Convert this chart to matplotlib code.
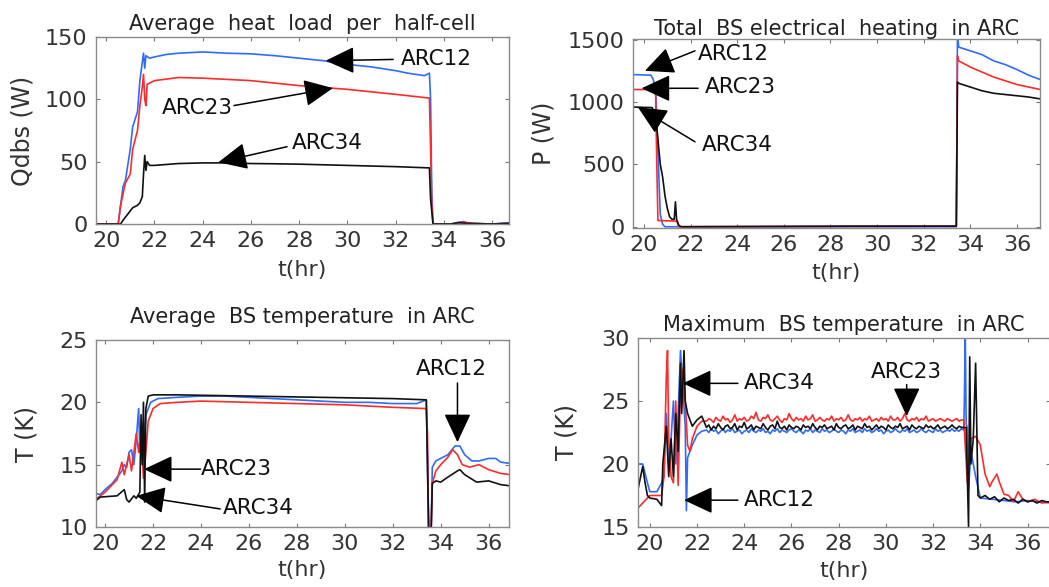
import matplotlib
matplotlib.use('Agg')
import matplotlib.pyplot as plt
import numpy as np

plt.rcParams['font.family'] = ['DejaVu Sans']

BLUE = '#2f6bff'
RED = '#ff2b2b'
BLACK = '#111111'

# ---- panel 1: average heat load per half-cell (W)
q_t12 = [19.6, 20.5, 20.7, 20.8, 21.0, 21.1, 21.3, 21.4, 21.5, 21.55, 21.6, 21.65, 21.8, 22.0, 22.5,
         23.0, 24.0, 25.0, 26.0, 27.0, 28.0, 29.0, 30.0, 31.0, 32.0, 32.5, 33.2, 33.4, 33.45, 33.5,
         33.55, 34.3, 34.5, 34.8, 35.0, 36.0, 36.7]
q_arc12 = [0, 0, 30, 35, 60, 78, 90, 115, 130, 137, 125, 135, 133, 134, 136,
           137, 138, 137, 136.5, 135, 133, 131, 128, 126, 123, 121, 119, 121, 100, 25,
           0, 0, 1, 2, 0.5, 0, 1]
q_t23 = [19.6, 20.5, 20.6, 20.8, 21.0, 21.1, 21.3, 21.4, 21.5, 21.55, 21.6, 21.65, 21.7, 22.0, 23.0,
         24.0, 25.0, 26.0, 27.0, 28.0, 29.0, 30.0, 31.0, 32.0, 33.4, 33.45, 33.5, 33.55, 34.3, 34.6,
         34.8, 35.2, 36.0, 36.7]
q_arc23 = [0, 0, 15, 33, 40, 60, 75, 95, 110, 120, 100, 95, 112, 115, 117.5,
           117, 116, 115, 113, 111, 109.5, 108, 106, 104, 101, 60, 15, 0, 0, 1,
           1.5, 0.5, 0, 0.5]
q_t34 = [19.6, 20.6, 20.7, 20.9, 21.1, 21.3, 21.4, 21.5, 21.55, 21.6, 21.65, 21.7, 21.8, 22.0, 23.0,
         24.0, 25.0, 26.0, 27.0, 28.0, 29.0, 30.0, 31.0, 32.0, 33.4, 33.45, 33.55, 34.3, 34.6, 35.0,
         36.0, 36.7]
q_arc34 = [0, 0, 3, 8, 13, 15, 17, 22, 40, 55, 43, 50, 47, 47, 48.5,
           49, 49, 48.5, 48.3, 48, 47.5, 47, 46.5, 46, 45, 20, 0, 0, 1, 0.5,
           0, 0.5]

# ---- panel 2: total BS electrical heating (W)
p_t12 = [19.5, 20.3, 20.4, 20.5, 20.6, 20.7, 20.8, 20.9, 33.4, 33.45, 33.5, 34.0, 34.5, 35.0,
         35.5, 36.0, 36.5, 37.0]
p_arc12 = [1220, 1215, 1180, 1100, 600, 100, 20, 0, 0, 1550, 1440, 1410, 1380, 1330,
           1300, 1260, 1215, 1180]
p_t23 = [19.5, 20.35, 20.4, 20.5, 20.55, 20.6, 21.4, 21.5, 33.4, 33.45, 33.5, 34.0, 34.5, 35.0,
         35.5, 36.0, 36.5, 37.0]
p_arc23 = [1100, 1100, 1090, 1080, 500, 50, 45, 0, 5, 1370, 1330, 1280, 1240, 1200,
           1170, 1140, 1120, 1100]
p_t34 = [19.5, 20.35, 20.5, 20.6, 20.7, 20.8, 20.9, 21.0, 21.1, 21.2, 21.3, 21.35, 21.4, 21.5, 21.6,
         29.0, 33.4, 33.45, 33.5, 34.0, 34.5, 35.0, 35.5, 36.0, 36.5, 37.0]
p_arc34 = [960, 955, 900, 700, 500, 400, 250, 150, 80, 60, 60, 200, 60, 10, 0,
           5, 5, 1160, 1150, 1120, 1090, 1070, 1060, 1050, 1040, 1025]

# ---- panel 3: average BS temperature (K)
ta_t12 = [19.6, 19.8, 20.0, 20.3, 20.5, 20.7, 20.8, 20.9, 21.0, 21.1, 21.2, 21.3, 21.4, 21.45,
          21.5, 21.6, 21.7, 21.9, 22.2, 23.0, 24.0, 25.0, 26.0, 27.0, 28.0, 29.0, 30.0, 31.0,
          32.0, 33.0, 33.4, 33.5, 33.6, 33.65, 33.8, 34.0, 34.3, 34.6, 34.8, 35.0, 35.3, 35.6,
          36.0, 36.3, 36.5, 36.9]
ta_arc12 = [12.7, 12.6, 13.0, 13.5, 14.0, 14.5, 15.0, 14.8, 16.0, 16.2, 15.0, 17.0, 19.5, 16.0,
            18.0, 16.5, 19.0, 20.0, 20.3, 20.4, 20.5, 20.5, 20.4, 20.3, 20.2, 20.1, 20.0, 20.0,
            19.9, 19.9, 20.2, 9.5, 9.5, 14.8, 15.3, 15.5, 15.8, 16.5, 16.5, 15.8, 15.3, 15.3,
            15.5, 15.5, 15.2, 15.1]
ta_t23 = [19.6, 20.0, 20.5, 20.7, 20.8, 21.0, 21.1, 21.3, 21.4, 21.5, 21.6, 21.7, 21.8, 22.0,
          22.3, 23.0, 24.0, 26.0, 28.0, 30.0, 32.0, 33.4, 33.45, 33.5, 33.6, 33.65, 33.8, 34.0,
          34.3, 34.5, 34.7, 34.9, 35.2, 35.6, 36.0, 36.5, 36.9]
ta_arc23 = [12.2, 12.8, 13.8, 15.2, 14.2, 15.8, 14.5, 17.5, 16.0, 17.8, 13.9, 16.0, 18.5, 19.5,
            19.9, 20.0, 20.1, 20.0, 19.9, 19.8, 19.6, 19.5, 17.5, 9.5, 9.5, 13.5, 14.5, 15.0,
            15.6, 16.2, 15.8, 15.0, 14.8, 15.0, 14.6, 14.3, 14.2]
ta_t34 = [19.6, 19.8, 20.5, 20.8, 20.9, 21.0, 21.2, 21.3, 21.45, 21.5, 21.55, 21.6, 21.65, 21.7,
          21.8, 22.0, 23.0, 26.0, 29.0, 32.0, 33.4, 33.5, 33.6, 33.65, 33.8, 34.0, 34.3, 34.7,
          34.8, 35.0, 35.5, 36.0, 36.5, 36.9]
ta_arc34 = [12.1, 12.4, 12.5, 13.0, 12.2, 12.0, 12.5, 12.3, 12.8, 19.0, 15.0, 20.0, 12.0, 19.5,
            20.5, 20.6, 20.6, 20.5, 20.4, 20.3, 20.2, 9.5, 9.5, 13.5, 13.7, 13.6, 14.0, 14.5,
            14.6, 14.2, 13.6, 13.7, 13.4, 13.3]

# ---- panel 4: maximum BS temperature (K)
# plateau sampled every 0.1 h from 22.4 to 33.3
tm_plateau_t = list(np.round(np.arange(22.4, 33.35, 0.1), 2))
tm_plateau23 = [23.4, 23.6, 23.5, 23.3, 23.7, 23.5, 23.4, 23.8, 23.5, 23.6,
                23.3, 23.5, 23.9, 23.4, 23.6, 23.5, 23.7, 23.4, 23.5, 23.8,
                23.6, 24.1, 23.5, 23.4, 23.7, 23.6, 23.9, 23.5, 23.4, 23.6,
                23.8, 23.5, 23.3, 23.6, 23.5, 24.0, 23.6, 23.4, 23.7, 23.5,
                23.6, 23.4, 23.8, 23.5, 23.6, 23.9, 23.4, 23.5, 23.7, 23.5,
                23.4, 23.6, 23.5, 23.8, 23.4, 23.6, 23.5, 23.7, 23.4, 23.5,
                23.9, 23.5, 23.4, 23.6, 23.5, 23.7, 23.4, 23.6, 23.5, 23.8,
                23.4, 23.5, 23.6, 23.4, 23.7, 23.5, 23.6, 23.4, 23.8, 23.5,
                23.5, 23.7, 23.4, 23.6, 24.0, 23.5, 23.4, 23.6, 23.5, 23.7,
                23.4, 23.6, 23.5, 23.8, 23.4, 23.5, 23.6, 23.4, 23.5, 23.6,
                23.5, 23.4, 23.6, 23.5, 23.4, 23.5, 23.6, 23.4, 23.5, 23.5]
tm_plateau12 = [22.7, 22.5, 22.8, 22.6, 22.7, 22.4, 22.6, 22.8, 22.5, 22.7,
                22.6, 22.8, 22.5, 22.6, 22.7, 22.4, 22.6, 22.7, 22.5, 22.8,
                22.6, 22.5, 22.7, 22.6, 22.8, 22.5, 22.6, 22.4, 22.7, 22.6,
                22.8, 22.5, 22.7, 22.6, 22.5, 22.7, 22.8, 22.6, 22.5, 22.7,
                22.6, 22.4, 22.7, 22.6, 22.8, 22.5, 22.7, 22.6, 22.5, 22.8,
                22.6, 22.7, 22.5, 22.6, 22.8, 22.6, 22.5, 22.7, 22.6, 22.4,
                22.7, 22.6, 22.8, 22.5, 22.6, 22.7, 22.5, 22.8, 22.6, 22.7,
                22.5, 22.6, 22.8, 22.6, 22.7, 22.4, 22.6, 22.7, 22.5, 22.6,
                22.8, 22.6, 22.5, 22.7, 22.6, 22.8, 22.5, 22.6, 22.7, 22.5,
                22.6, 22.8, 22.6, 22.5, 22.7, 22.6, 22.5, 22.8, 22.6, 22.7,
                22.5, 22.6, 22.7, 22.6, 22.8, 22.6, 22.7, 22.6, 22.8, 22.7]
tm_plateau34 = [22.9, 23.1, 22.7, 23.0, 22.8, 23.2, 22.9, 22.7, 23.0, 23.1,
                22.8, 22.9, 23.2, 22.7, 23.0, 22.9, 23.3, 22.8, 22.9, 23.1,
                22.7, 23.0, 22.9, 22.8, 23.2, 22.9, 22.7, 23.0, 23.1, 22.8,
                23.4, 22.9, 22.8, 23.0, 22.7, 23.1, 22.9, 22.8, 23.0, 22.9,
                22.7, 23.1, 22.9, 23.0, 22.8, 23.2, 22.9, 22.7, 23.0, 22.9,
                23.1, 22.8, 22.9, 23.0, 22.7, 23.2, 22.9, 22.8, 23.0, 23.1,
                22.8, 22.9, 23.1, 22.7, 23.0, 22.9, 22.8, 23.2, 22.9, 23.0,
                22.7, 22.9, 23.1, 22.8, 23.0, 22.9, 22.7, 23.1, 22.9, 22.8,
                23.0, 22.9, 23.2, 22.8, 22.9, 23.0, 22.7, 23.1, 22.9, 22.8,
                23.0, 22.9, 22.8, 23.1, 22.9, 23.0, 22.8, 22.9, 23.1, 22.8,
                22.9, 23.0, 22.8, 22.9, 23.1, 22.9, 22.8, 23.0, 22.9, 22.9]

tm_start_t23 = [19.5, 20.0, 20.5, 20.6, 20.7, 20.75, 20.8, 20.9, 21.0, 21.1, 21.2, 21.3, 21.4,
                21.5, 21.6, 21.7, 21.8, 22.0, 22.2]
tm_start23 = [16.5, 17.5, 17.5, 19.0, 27.0, 29.0, 22.0, 19.0, 18.5, 25.0, 18.3, 26.0, 27.5,
              25.0, 21.5, 21.0, 22.0, 23.0, 23.4]
tm_end_t23 = [33.45, 33.6, 33.8, 34.0, 34.2, 34.4, 34.5, 34.7, 34.8, 35.0, 35.2, 35.4, 35.6,
              35.8, 36.0, 36.3, 36.6, 37.0]
tm_end23 = [18.5, 22.0, 22.2, 21.5, 19.2, 18.2, 18.6, 19.2, 18.6, 17.6, 17.5, 17.0, 17.8,
            17.2, 17.0, 17.2, 16.9, 17.0]

tm_start_t12 = [19.5, 19.7, 19.9, 20.0, 20.3, 20.5, 20.6, 20.7, 20.8, 20.9, 21.0, 21.1, 21.2,
                21.3, 21.4, 21.5, 21.55, 21.6, 21.8, 22.0, 22.2]
tm_start12 = [20.0, 20.0, 18.5, 17.8, 17.8, 18.5, 19.0, 24.0, 20.0, 22.0, 25.0, 20.0, 24.0,
              29.0, 26.0, 23.0, 16.3, 20.5, 21.5, 22.3, 22.6]
tm_end_t12 = [33.33, 33.36, 33.4, 33.45, 33.5, 33.6, 33.8, 34.0, 34.5, 35.0, 35.5, 36.0, 36.5,
              37.0]
tm_end12 = [26.0, 30.5, 23.2, 22.8, 18.0, 21.0, 19.0, 17.3, 17.2, 17.1, 17.0, 17.1, 17.0,
            16.9]

tm_start_t34 = [19.5, 19.7, 19.8, 19.9, 20.0, 20.3, 20.5, 20.55, 20.7, 20.8, 20.9, 21.0, 21.1,
                21.2, 21.3, 21.35, 21.45, 21.5, 21.6, 21.7, 21.8, 22.0, 22.2]
tm_start34 = [18.0, 19.8, 18.5, 17.5, 17.3, 17.2, 16.7, 20.0, 23.0, 19.0, 22.0, 19.0, 24.0,
              21.0, 28.0, 24.0, 29.0, 25.0, 24.0, 23.5, 23.0, 23.5, 23.8]
tm_end_t34 = [33.4, 33.5, 33.55, 33.6, 33.7, 33.8, 33.9, 34.0, 34.2, 34.4, 34.6, 34.8, 35.0,
              35.2, 35.4, 35.6, 35.8, 36.0, 36.2, 36.4, 36.6, 36.8, 37.0]
tm_end34 = [22.9, 15.0, 28.5, 20.0, 22.0, 28.0, 17.5, 17.3, 17.5, 17.2, 17.4, 17.0, 17.3,
            17.1, 17.2, 16.9, 17.2, 17.0, 17.1, 16.9, 17.1, 17.0, 17.0]

xticks = [20, 22, 24, 26, 28, 30, 32, 34, 36]
W, H = 1049, 587


def make_axes(fig, l, t, r, b):
    return fig.add_axes([l / W, 1 - b / H, (r - l) / W, (b - t) / H])


def style(ax, title, ylabel, xlim, ylim, yticks, tpad, ylab_x, xlab_y):
    ax.set_xlim(xlim)
    ax.set_ylim(ylim)
    ax.set_xticks(xticks)
    ax.set_yticks(yticks)
    ax.tick_params(direction='in', top=True, right=True, length=3, width=0.8,
                   color='#777777', labelsize=16, labelcolor='#333333')
    ax.tick_params(axis='x', pad=5)
    ax.tick_params(axis='y', pad=6)
    for s in ax.spines.values():
        s.set_color('#8a8a8a')
        s.set_linewidth(1.0)
    ax.set_title(title, fontsize=15, color='#222222', pad=tpad)
    ax.set_ylabel(ylabel, fontsize=17, color='#333333')
    ax.yaxis.set_label_coords(ylab_x, 0.5)
    ax.set_xlabel('t(hr)', fontsize=16, color='#333333')
    ax.xaxis.set_label_coords(0.5, xlab_y)


def arrow(ax, text, xy, xytext, tail, ha='left'):
    ax.annotate('', xy=xy, xytext=tail,
                arrowprops=dict(arrowstyle='-|>,head_length=0.9,head_width=0.42',
                                color='black', lw=1.1, mutation_scale=20,
                                shrinkA=0, shrinkB=0))
    ax.text(xytext[0], xytext[1], text, fontsize=15.5, color='#111111',
            ha=ha, va='center')


fig = plt.figure(figsize=(W / 100, H / 100), dpi=100)

lw = 1.2
ax1 = make_axes(fig, 96, 37, 509, 224)
ax1.plot(q_t12, q_arc12, color=BLUE, lw=lw)
ax1.plot(q_t23, q_arc23, color=RED, lw=lw)
ax1.plot(q_t34, q_arc34, color=BLACK, lw=lw)
style(ax1, 'Average  heat  load  per  half-cell', 'Qdbs (W)', (19.58, 36.7), (0, 150),
      [0, 50, 100, 150], 5, -0.15, -0.19)
arrow(ax1, 'ARC12', (29.1, 131), (32.2, 132), (31.9, 132))
arrow(ax1, 'ARC23', (29.4, 109), (22.3, 93), (25.3, 95))
arrow(ax1, 'ARC34', (24.65, 49.5), (27.7, 65), (27.5, 62))

ax2 = make_axes(fig, 633, 39, 1040, 228)
ax2.plot(p_t12, p_arc12, color=BLUE, lw=lw)
ax2.plot(p_t23, p_arc23, color=RED, lw=lw)
ax2.plot(p_t34, p_arc34, color=BLACK, lw=lw)
style(ax2, 'Total  BS electrical  heating  in ARC', 'P (W)', (19.53, 36.99), (-10, 1505),
      [0, 500, 1000, 1500], 3, -0.19, -0.185)
arrow(ax2, 'ARC12', (20.04, 1250), (22.3, 1385), (22.19, 1410))
arrow(ax2, 'ARC23', (19.9, 1110), (22.6, 1120), (22.32, 1110))
arrow(ax2, 'ARC34', (19.74, 958), (22.5, 653), (22.19, 681))

ax3 = make_axes(fig, 96, 340, 509, 527)
ax3.plot(ta_t12, ta_arc12, color=BLUE, lw=lw)
ax3.plot(ta_t23, ta_arc23, color=RED, lw=lw)
ax3.plot(ta_t34, ta_arc34, color=BLACK, lw=lw)
style(ax3, 'Average  BS temperature  in ARC', 'T (K)', (19.62, 36.85), (10, 25),
      [10, 15, 20, 25], 12, -0.14, -0.175)
arrow(ax3, 'ARC23', (21.62, 14.64), (24.0, 14.64), (23.98, 14.64))
arrow(ax3, 'ARC34', (21.3, 12.5), (24.9, 11.55), (24.8, 11.45))
arrow(ax3, 'ARC12', (34.7, 16.8), (34.43, 22.7), (34.7, 21.55), ha='center')

ax4 = make_axes(fig, 638, 338, 1050, 527)
ax4.plot(tm_start_t12 + tm_plateau_t + tm_end_t12, tm_start12 + tm_plateau12 + tm_end12,
         color=BLUE, lw=lw)
ax4.plot(tm_start_t23 + tm_plateau_t + tm_end_t23, tm_start23 + tm_plateau23 + tm_end23,
         color=RED, lw=lw)
ax4.plot(tm_start_t34 + tm_plateau_t + tm_end_t34, tm_start34 + tm_plateau34 + tm_end34,
         color=BLACK, lw=lw)
style(ax4, 'Maximum  BS temperature  in ARC', 'T (K)', (19.5, 36.95), (15, 30),
      [15, 20, 25, 30], 5, -0.145, -0.18)
arrow(ax4, 'ARC34', (21.4, 26.4), (24.0, 26.4), (23.73, 26.4))
arrow(ax4, 'ARC12', (21.45, 17.13), (24.0, 17.13), (23.73, 17.13))
arrow(ax4, 'ARC23', (30.88, 23.8), (30.88, 27.3), (30.88, 26.3), ha='center')

fig.savefig('out.png', dpi=100)
